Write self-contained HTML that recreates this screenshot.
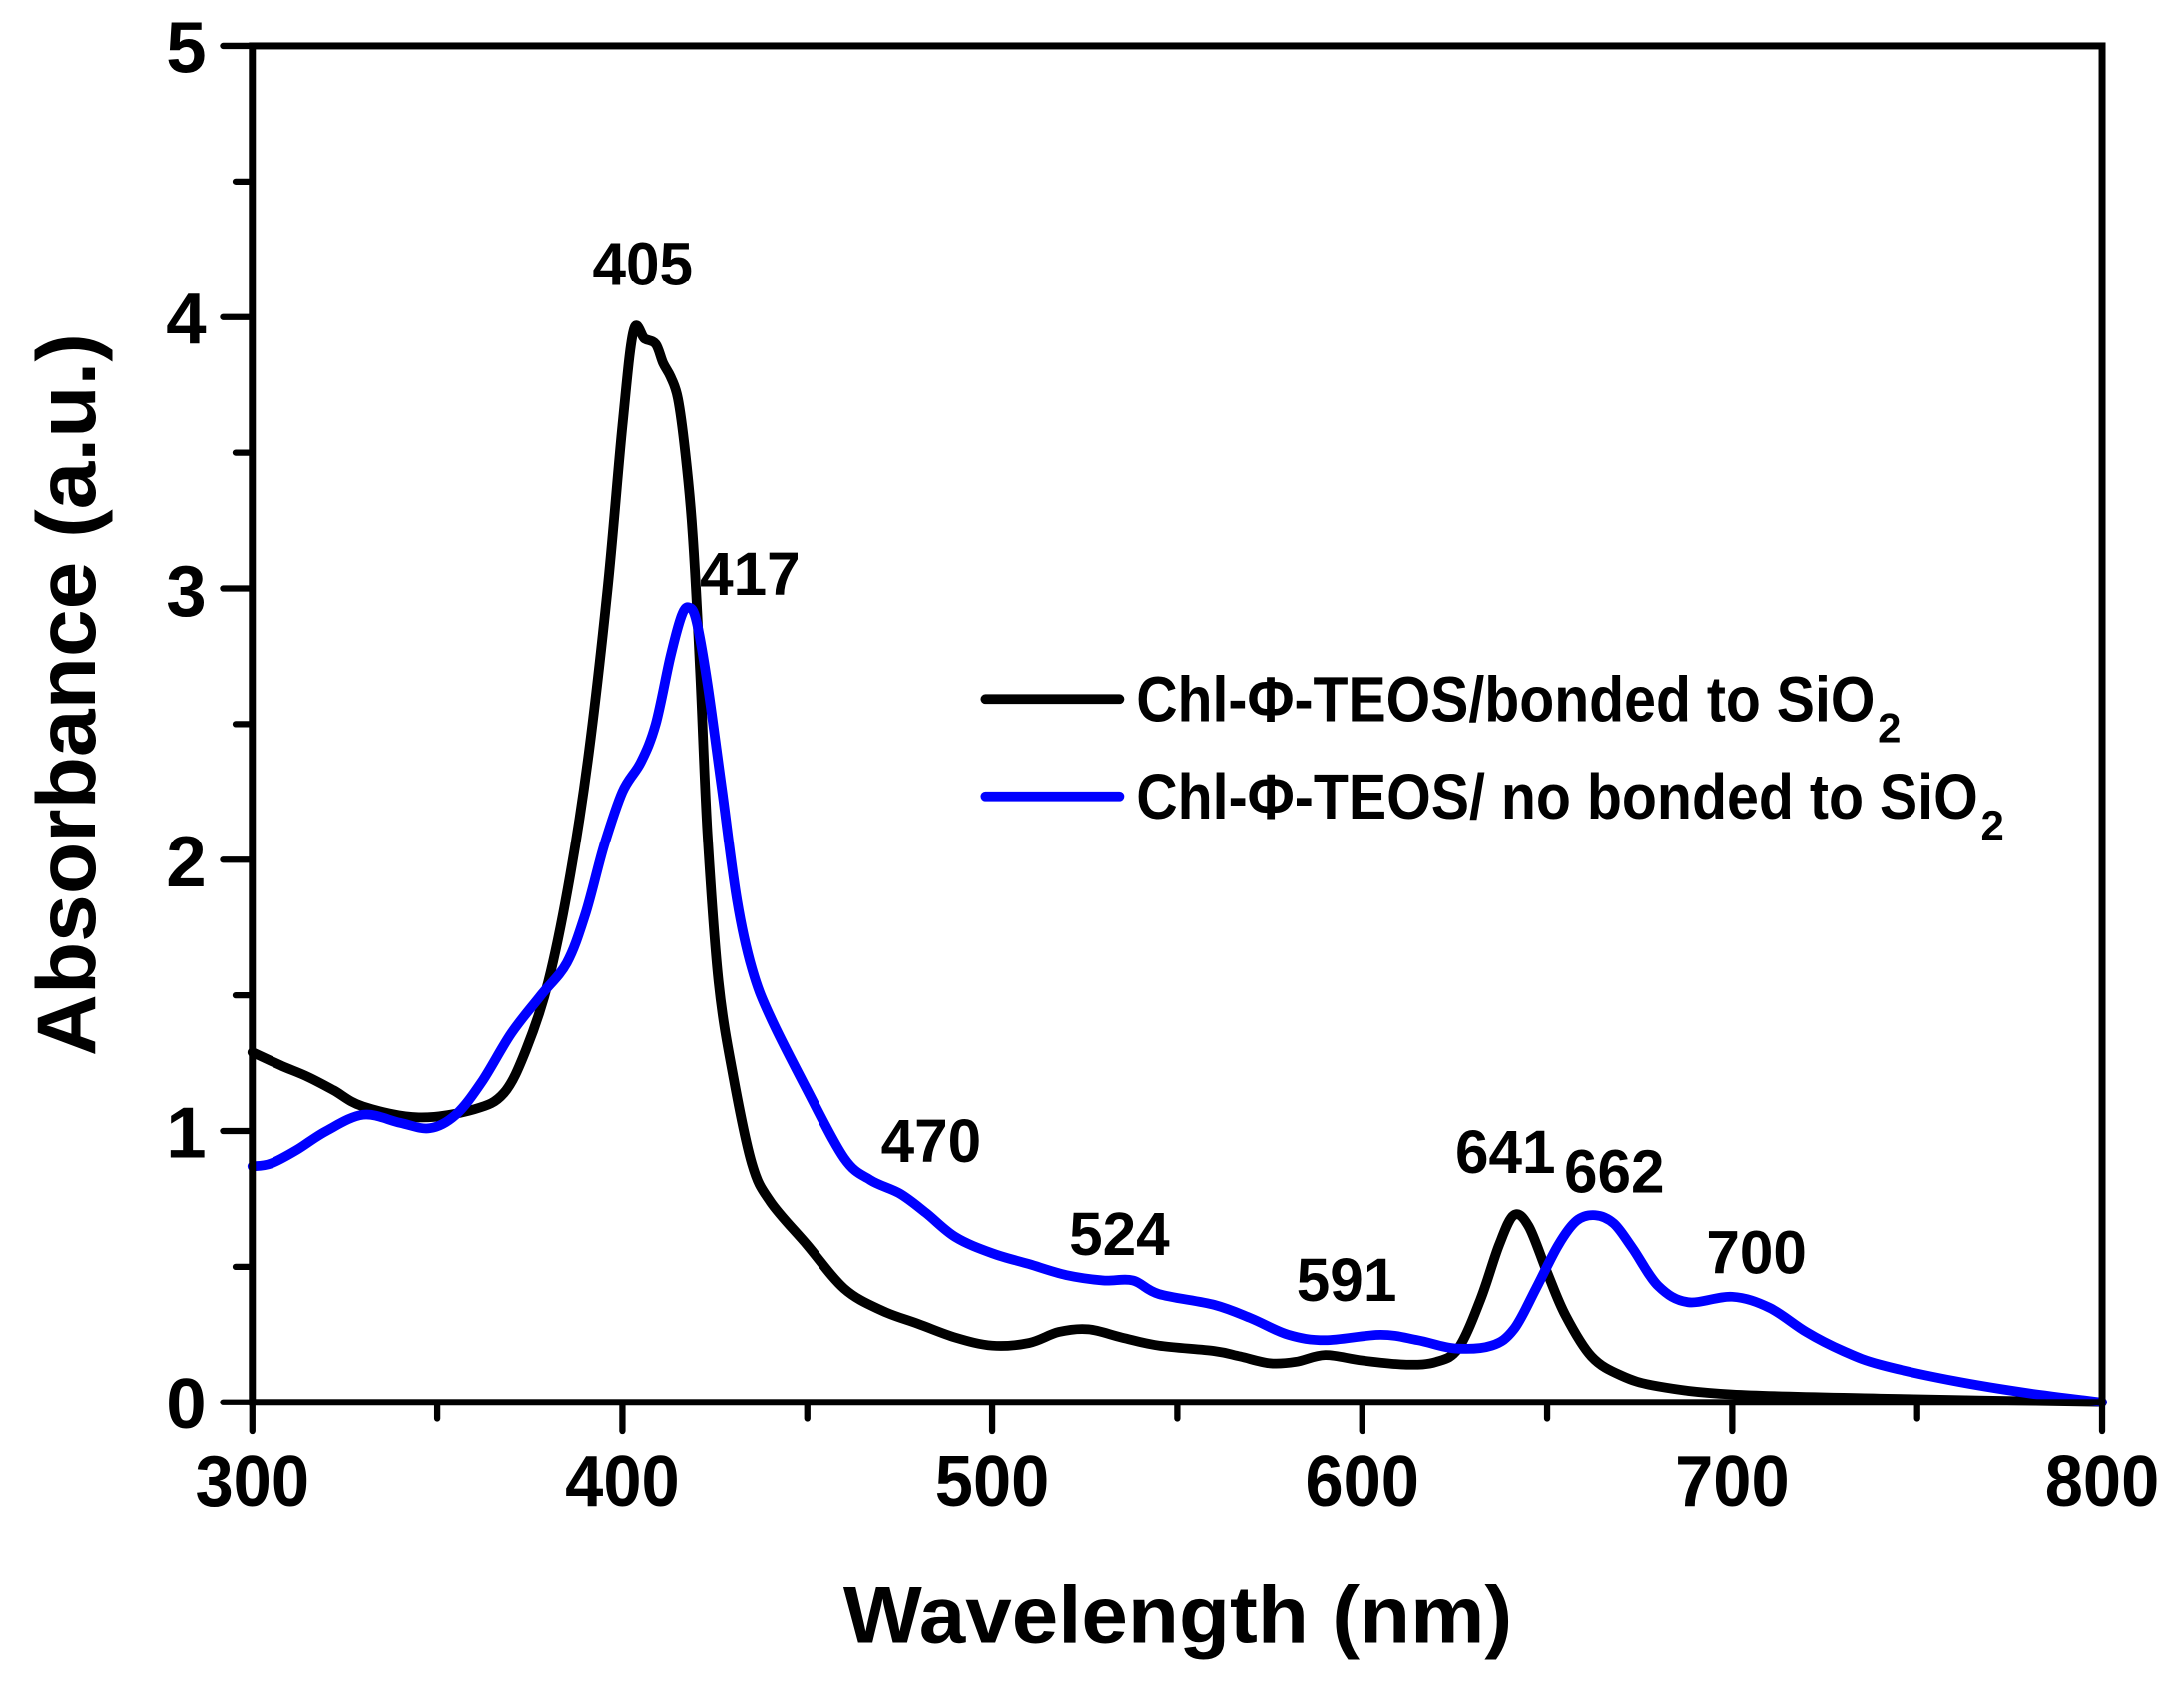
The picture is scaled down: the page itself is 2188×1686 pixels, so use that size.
<!DOCTYPE html>
<html><head><meta charset="utf-8"><style>html,body{margin:0;padding:0;background:#fff}svg{display:block}</style></head>
<body>
<svg id="s" width="2188" height="1686" viewBox="0 0 1566.7 1211" preserveAspectRatio="none" xmlns="http://www.w3.org/2000/svg" font-family="Liberation Sans, Arial, sans-serif" font-weight="bold">
<rect width="1566.7" height="1211" fill="#fff"/>
<g id="curves" fill="none" stroke-width="7" stroke-linejoin="round" stroke-linecap="round">
<path id="pb" stroke="#000"/>
<path id="pu" stroke="#0000ff"/>
</g>
<rect x="181" y="33" width="1327" height="976" fill="none" stroke="#000" stroke-width="5"/>
<g id="ticks" stroke="#000" stroke-width="4.5" stroke-linecap="round"></g>
<g font-size="52" text-anchor="middle">
<text x="181" y="1084" textLength="82" lengthAdjust="spacingAndGlyphs">300</text>
<text x="446.4" y="1084" textLength="82" lengthAdjust="spacingAndGlyphs">400</text>
<text x="711.8" y="1084" textLength="82" lengthAdjust="spacingAndGlyphs">500</text>
<text x="977.2" y="1084" textLength="82" lengthAdjust="spacingAndGlyphs">600</text>
<text x="1242.6" y="1084" textLength="82" lengthAdjust="spacingAndGlyphs">700</text>
<text x="1508" y="1084" textLength="82" lengthAdjust="spacingAndGlyphs">800</text>
</g>
<g font-size="52" text-anchor="end">
<text x="148" y="1028">0</text>
<text x="148" y="833">1</text>
<text x="148" y="638">2</text>
<text x="148" y="443">3</text>
<text x="148" y="247">4</text>
<text x="148" y="52">5</text>
</g>
<text x="845" y="1182" font-size="58" text-anchor="middle" textLength="480" lengthAdjust="spacingAndGlyphs">Wavelength (nm)</text>
<text transform="translate(68,500) rotate(-90)" font-size="60" text-anchor="middle" textLength="520" lengthAdjust="spacingAndGlyphs">Absorbance (a.u.)</text>
<g font-size="44" text-anchor="middle">
<text x="461" y="205" textLength="72" lengthAdjust="spacingAndGlyphs">405</text>
<text x="538" y="428" textLength="72" lengthAdjust="spacingAndGlyphs">417</text>
<text x="668" y="836" textLength="72" lengthAdjust="spacingAndGlyphs">470</text>
<text x="803" y="903" textLength="72" lengthAdjust="spacingAndGlyphs">524</text>
<text x="966" y="936" textLength="72" lengthAdjust="spacingAndGlyphs">591</text>
<text x="1080" y="844" textLength="72" lengthAdjust="spacingAndGlyphs">641</text>
<text x="1158" y="858" textLength="72" lengthAdjust="spacingAndGlyphs">662</text>
<text x="1260" y="916" textLength="72" lengthAdjust="spacingAndGlyphs">700</text>
</g>
<line x1="707" y1="503" x2="803" y2="503" stroke="#000" stroke-width="7" stroke-linecap="round"/>
<line x1="707" y1="573" x2="803" y2="573" stroke="#0000ff" stroke-width="7" stroke-linecap="round"/>
<g font-size="46">
<text x="815" y="519" textLength="530" lengthAdjust="spacingAndGlyphs">Chl-Φ-TEOS/bonded to SiO</text>
<text x="1347" y="534" font-size="30">2</text>
<text x="815" y="589" textLength="604" lengthAdjust="spacingAndGlyphs">Chl-Φ-TEOS/ no bonded to SiO</text>
<text x="1421" y="604" font-size="30">2</text>
</g>
</svg>
<script>
var X=function(n){return 181+(n-300)*2.654},Y=function(a){return 1009-a*195.2};
function path(d){var p=d.map(function(q){return [X(q[0]),Y(q[1])]});var s='M'+p[0][0].toFixed(1)+','+p[0][1].toFixed(1);
for(var i=0;i<p.length-1;i++){var p0=p[Math.max(i-1,0)],p1=p[i],p2=p[i+1],p3=p[Math.min(i+2,p.length-1)];
var c1=[p1[0]+(p2[0]-p0[0])/6,p1[1]+(p2[1]-p0[1])/6],c2=[p2[0]-(p3[0]-p1[0])/6,p2[1]-(p3[1]-p1[1])/6];
s+='C'+c1[0].toFixed(1)+','+c1[1].toFixed(1)+' '+c2[0].toFixed(1)+','+c2[1].toFixed(1)+' '+p2[0].toFixed(1)+','+p2[1].toFixed(1);}return s;}
var b=[[300,1.29],[308,1.24],[315,1.2],[322,1.15],[330,1.09],[345,1.05],[360,1.08],[368,1.14],[374,1.3],[380,1.55],[386,1.95],[391,2.4],[396,3.0],[400,3.6],[403,3.95],[406,3.92],[409,3.9],[411,3.83],[413,3.78],[415,3.7],[417,3.5],[419,3.2],[421,2.7],[423,2.1],[426,1.55],[430,1.2],[435,0.88],[440,0.74],[450,0.58],[460,0.42],[470,0.34],[480,0.29],[490,0.24],[500,0.21],[510,0.22],[518,0.26],[526,0.27],[535,0.24],[545,0.21],[560,0.19],[567,0.17],[575,0.145],[582,0.15],[590,0.175],[600,0.155],[612,0.14],[620,0.15],[626,0.2],[632,0.38],[637,0.58],[641,0.69],[645,0.65],[650,0.48],[655,0.32],[662,0.17],[670,0.1],[680,0.06],[700,0.03],[740,0.015],[800,0.0]];
var u=[[300,0.87],[305,0.88],[312,0.93],[320,1.0],[330,1.06],[340,1.03],[348,1.01],[355,1.06],[362,1.18],[370,1.36],[378,1.5],[385,1.62],[390,1.8],[395,2.05],[400,2.25],[405,2.36],[409,2.5],[413,2.75],[416,2.9],[418,2.93],[420,2.88],[423,2.65],[427,2.25],[431,1.85],[435,1.6],[440,1.42],[450,1.15],[460,0.9],[467,0.82],[475,0.77],[482,0.7],[490,0.61],[500,0.55],[510,0.51],[520,0.47],[530,0.45],[538,0.45],[545,0.4],[560,0.36],[570,0.31],[580,0.25],[590,0.23],[605,0.25],[615,0.23],[625,0.2],[635,0.21],[641,0.27],[647,0.42],[653,0.58],[658,0.67],[663,0.69],[668,0.66],[673,0.57],[680,0.43],[688,0.37],[700,0.39],[710,0.35],[720,0.26],[730,0.19],[740,0.14],[760,0.08],[780,0.035],[800,0.0]];
document.getElementById('pb').setAttribute('d',path(b));
document.getElementById('pu').setAttribute('d',path(u));
var g=document.getElementById('ticks'),h='';
for(var n=300;n<=800;n+=50){var x=X(n),L=(n%100==0)?21:12;h+='<line x1="'+x+'" y1="1009" x2="'+x+'" y2="'+(1009+L)+'"/>';}
for(var a=0;a<=5.001;a+=0.5){var y=Y(a),L=(Math.abs(a-Math.round(a))<0.01)?21:12;h+='<line x1="181" y1="'+y+'" x2="'+(181-L)+'" y2="'+y+'"/>';}
g.innerHTML=h;
</script>
</body></html>
